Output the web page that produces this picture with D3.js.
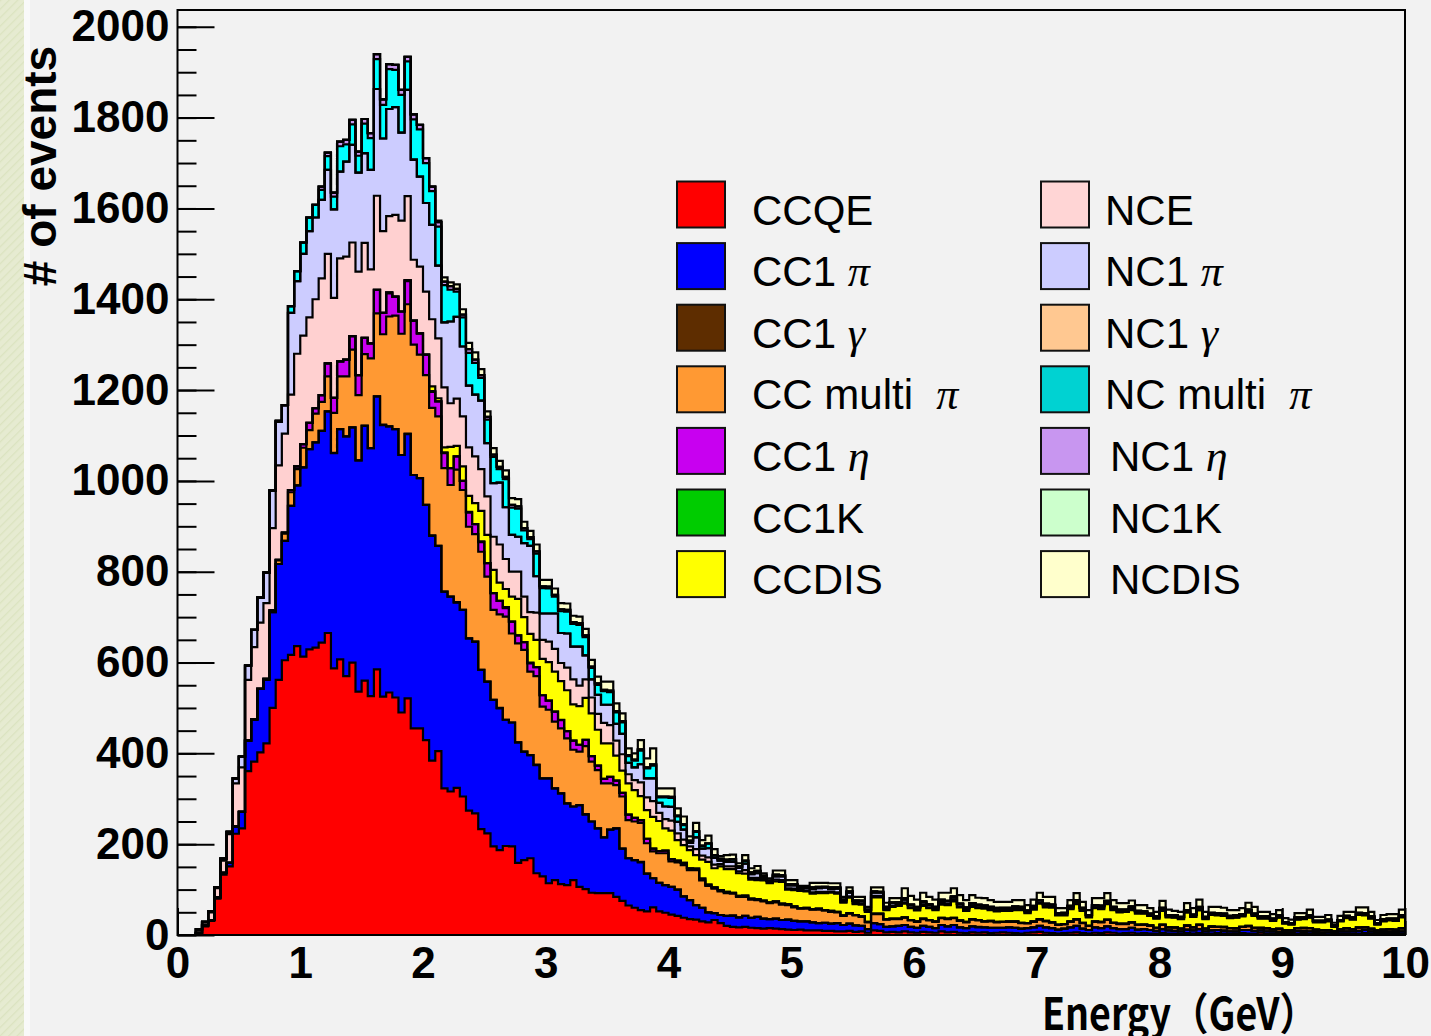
<!DOCTYPE html>
<html>
<head>
<meta charset="utf-8">
<script src="https://cdn.jsdelivr.net/npm/d3@7"></script>
<style>
body{margin:0;background:#f2f2f2;}
svg{display:block;}
</style>
</head>
<body>
<svg id="chart" width="1431" height="1036"></svg>
<script>
// 200 bins of 0.05 GeV, 0 - 10 GeV
var binWidth = 0.05;

var ccqe = [
0,0,0,5,19,31,80,133,151,223, 235,361,382,402,422,500,562,605,617,636,
613,629,633,644,665,587,607,570,600,536, 560,526,585,525,534,523,490,521,455,455,
429,384,405,323,316,324,305,274,268,233, 224,195,187,196,195,159,165,169,136,129,
114,121,112,110,121,106,101,93,92,92, 92,84,75,65,60,55,52,61,52,49,
45,42,38,35,34,30,28,33,26,20, 18,17,18,16,15,14,15,14,13,12,
11,12,10,10,10,9,9,8,8,9, 7,8,5,10,9,6,7,6,8,6,
5,7,6,5,8,6,7,5,4,6, 5,6,4,5,6,5,4,3,5,6,
7,5,4,3,4,5,6,4,3,5, 4,6,5,3,4,5,3,4,3,3,
4,3,3,2,4,3,4,2,3,4, 3,2,3,4,3,3,5,2,3,2,
2,2,3,4,2,3,2,1,2,3, 3,2,3,4,3,2,2,3,2,3];

var cc1pi = [
0,0,0,0,2,2,3,4,8,16, 36,67,93,140,140,211,255,263,328,354,
417,441,452,466,488,474,507,528,518,509, 561,546,601,598,586,591,567,582,558,551,
518,495,452,433,429,408,411,379,378,351, 334,323,312,278,273,265,239,227,238,216,
231,202,200,180,162,180,164,157,143,123, 140,151,115,104,105,105,83,64,63,61,
61,58,47,42,32,30,22,15,18,22, 24,22,24,22,25,22,20,22,20,22,
20,18,20,18,16,18,16,18,14,16, 14,12,8,16,15,12,12,14,14,12,
11,13,12,10,14,13,15,12,11,13, 12,11,12,11,10,12,12,11,10,11,
13,12,11,9,10,12,14,10,8,12, 11,13,10,10,9,11,9,9,8,6,
9,7,6,6,8,7,9,6,7,7, 6,6,5,7,8,6,5,6,5,5,
4,4,6,5,6,4,4,5,3,5, 5,6,6,7,5,4,5,4,5,5];

var cc1gamma = [
0,0,0,0,0,0,0,0,0,0, 0,0,0,0,0,0,0,0,0,0,
0,0,0,0,0,1,0,0,0,0, 1,0,0,1,0,0,0,1,0,0,
0,1,0,0,0,1,0,0,0,0, 0,0,1,0,0,0,0,0,1,0,
0,0,0,0,0,0,1,0,0,0, 0,0,0,0,0,1,0,0,0,0,
0,0,0,0,0,0,0,0,0,0, 1,0,0,0,0,0,0,0,0,0,
0,0,0,0,0,0,0,0,0,0, 0,0,0,0,0,0,0,0,0,0,
0,0,0,0,0,0,0,0,0,0, 1,0,0,0,0,0,0,0,0,0,
0,0,0,0,0,0,0,0,0,0, 0,0,0,0,0,0,0,0,0,0,
0,0,0,0,0,0,0,0,0,0, 1,0,0,0,0,0,0,0,0,0,
0,0,0,0,0,0,0,0,0,0, 0,0,0,0,0,0,0,0,0,0];

var ccmultipi = [
0,0,0,0,0,0,0,0,0,0, 0,0,0,0,2,4,8,16,30,36,
43,42,63,64,77,88,116,132,171,144, 157,198,183,199,242,250,267,285,287,272,
286,281,285,272,246,292,264,246,237,260, 231,198,206,227,196,218,224,184,195,158,
151,147,143,143,125,118,150,132,128,119, 102,95,115,84,85,86,67,59,65,70,
56,60,69,66,77,60,58,54,52,50, 48,45,42,40,37,38,35,36,34,32,
30,28,28,28,30,27,26,24,20,22, 22,20,15,20,22,16,16,15,16,14,
13,15,14,14,15,16,15,14,13,15, 14,13,14,12,13,12,13,12,11,12,
14,13,13,10,10,12,14,12,9,12, 13,14,12,11,11,12,10,10,9,7,
9,7,7,6,8,7,9,6,8,7, 7,7,6,7,8,7,6,6,5,6,
4,4,6,6,7,5,5,4,3,5, 6,5,7,6,5,4,5,5,5,6];

var cc1eta = [
0,0,0,0,0,0,0,0,0,0, 0,0,0,0,0,0,1,2,5,6,
8,16,12,15,29,33,33,37,30,44, 36,33,52,47,51,42,49,51,53,47,
45,35,33,33,37,29,20,31,22,21, 30,37,30,19,26,18,17,18,20,25,
20,22,18,16,20,15,14,12,10,10, 14,10,8,12,8,6,10,6,5,6,
5,4,5,4,3,4,3,3,3,3, 2,2,3,2,2,2,2,2,2,2,
2,1,2,1,2,1,2,1,1,1, 1,1,1,1,1,1,1,1,1,1,
1,1,1,1,1,1,1,1,1,1, 1,0,1,1,0,1,1,1,0,1,
1,1,0,1,0,1,1,1,0,1, 1,1,0,1,1,0,1,0,1,0,
1,0,1,0,1,0,1,0,1,0, 1,0,1,0,1,0,0,1,0,1,
0,0,0,1,0,0,0,1,0,0, 1,0,1,0,1,0,0,1,0,1];

var cc1k = [
0,0,0,0,0,0,0,0,0,0, 0,0,0,0,0,0,0,0,0,0,
0,0,0,0,0,0,0,0,0,0, 0,0,0,0,2,0,0,2,0,0,
0,2,0,2,0,0,0,2,0,2, 0,0,0,2,0,0,0,2,0,0,
0,0,1,0,0,0,0,0,0,0, 0,0,0,0,0,0,0,0,0,0,
0,0,0,0,0,0,0,0,0,0, 0,0,0,0,0,0,0,0,0,0,
0,0,0,0,0,0,0,0,0,0, 0,0,0,0,0,0,0,0,0,0,
0,0,0,0,0,0,0,0,0,0, 0,0,0,0,0,0,0,0,0,0,
0,0,0,0,0,0,0,0,0,0, 0,0,0,0,0,0,0,0,0,0,
0,0,0,0,0,0,0,0,0,0, 0,0,0,0,0,0,0,0,0,0,
0,0,0,0,0,0,0,0,0,0, 0,0,0,0,0,0,0,0,0,0];

var ccdis = [
0,0,0,0,0,0,0,0,0,0, 0,0,0,0,0,0,0,0,0,0,
0,0,0,0,0,0,0,0,0,0, 0,0,0,0,0,0,0,0,0,0,
0,10,7,11,47,23,32,35,46,67, 62,51,40,40,55,80,55,63,60,80,
85,88,85,90,80,85,92,94,79,78, 74,55,49,69,61,53,63,70,66,49,
63,45,39,40,30,42,50,42,52,50, 52,50,48,42,42,44,42,44,48,32,
36,38,36,34,34,37,40,40,28,34, 24,26,22,36,36,20,26,28,30,26,
24,28,26,25,29,30,36,29,24,27, 26,28,24,23,24,23,25,28,22,26,
34,30,32,20,19,27,33,26,19,29, 28,34,28,25,26,27,24,24,21,20,
30,22,21,21,28,23,31,21,25,25, 24,22,23,23,29,26,20,21,18,24,
15,13,19,19,23,16,17,19,10,17, 22,21,27,26,22,13,18,19,19,24];

var nce = [
0,0,0,6,6,17,20,27,63,95, 98,134,159,146,167,181,208,218,210,248,
239,232,240,257,241,220,227,227,206,228, 209,163,207,180,168,180,200,185,134,147,
139,148,132,132,96,104,110,107,103,92, 85,73,84,66,55,60,45,48,60,42,
45,50,40,50,55,45,41,35,35,45, 40,33,36,20,22,30,28,35,18,20,
22,15,12,8,13,9,10,8,5,6, 6,4,8,4,5,3,2,4,4,3,
3,2,2,3,3,3,2,3,2,3, 2,2,1,3,3,2,2,2,3,2,
2,3,2,2,3,2,3,2,2,2, 2,2,2,2,2,2,2,2,2,2,
2,2,2,1,2,2,2,2,1,2, 2,2,2,2,1,2,2,1,1,1,
2,1,1,1,2,1,2,1,1,1, 1,1,1,1,2,1,1,1,1,1,
1,1,1,1,1,1,1,1,1,1, 1,1,1,1,1,1,1,1,1,1];

var nc1pi = [
0,0,0,2,2,2,2,4,5,11, 24,31,38,55,67,83,96,63,180,160,
180,190,180,173,185,195,191,209,215,218, 197,219,235,204,236,237,194,234,220,198,
195,208,160,143,180,180,154,136,136,151, 117,118,136,114,81,77,118,146,80,58,
62,78,66,75,72,86,53,40,42,40, 45,37,45,25,28,40,42,50,22,28,
30,25,22,8,26,15,20,15,8,10, 10,8,14,8,10,5,3,7,8,6,
7,4,5,7,8,9,6,8,4,8, 5,5,3,7,7,4,6,5,6,5,
4,5,5,4,5,6,5,5,4,5, 4,4,4,4,4,4,4,4,3,4,
5,4,4,3,3,4,5,4,3,4, 4,4,4,3,3,4,3,3,3,3,
4,3,3,3,3,3,4,3,3,3, 3,3,3,3,4,3,3,3,3,3,
2,2,3,2,3,2,2,2,2,2, 3,3,3,3,3,2,3,2,3,3];

var nc1gamma = [
0,0,0,0,0,0,0,0,0,0, 0,0,0,0,0,0,0,0,0,0,
0,0,0,0,0,0,0,0,0,0, 1,0,0,0,0,0,0,0,1,0,
0,0,0,0,0,0,0,0,0,0, 0,0,0,0,0,0,0,0,0,0,
0,0,0,0,0,0,0,0,0,0, 0,0,0,0,0,0,0,0,0,0,
0,0,0,0,0,0,0,0,0,0, 0,0,0,0,0,0,0,0,0,0,
0,0,0,0,0,0,0,0,0,0, 0,0,0,0,0,0,0,0,0,0,
0,0,0,0,0,0,0,0,0,0, 0,0,0,0,0,0,0,0,0,0,
0,0,0,0,0,0,0,0,0,0, 0,0,0,0,0,0,0,0,0,0,
0,0,0,0,0,0,0,0,0,0, 0,0,0,0,0,0,0,0,0,0,
0,0,0,0,0,0,0,0,0,0, 0,0,0,0,0,0,0,0,0,0];

var ncmultipi = [
0,0,0,0,0,0,0,0,0,0, 0,0,0,0,0,0,2,0,15,22,
25,30,28,22,30,28,56,38,45,37, 65,70,66,74,88,82,83,63,88,104,
88,74,86,82,70,56,64,72,70,50, 52,58,30,62,60,62,28,15,50,56,
55,37,48,48,50,48,40,25,22,30, 28,25,25,15,15,30,22,28,12,20,
20,12,10,4,12,6,10,5,3,4, 5,2,6,3,4,2,1,3,2,2,
2,1,1,3,2,2,3,2,1,2, 1,1,1,2,2,1,1,1,2,1,
1,2,1,1,2,1,2,1,1,1, 1,1,1,1,1,1,1,1,1,1,
1,1,1,1,1,1,1,1,1,1, 1,1,1,1,1,1,1,1,1,1,
1,1,1,1,1,1,1,1,1,1, 1,1,1,1,1,1,1,1,1,1,
0,0,1,1,1,0,0,1,0,0, 1,1,1,1,1,0,1,1,1,1];

var nc1eta = [
0,0,0,0,0,0,0,0,0,0, 0,0,0,0,0,0,0,0,0,0,
0,0,0,7,8,9,10,10,10,9, 10,11,11,12,11,11,11,10,11,10,
11,10,10,8,8,6,6,8,7,6, 6,5,5,5,6,5,5,4,5,4,
4,4,4,4,4,4,4,3,3,3, 3,3,3,2,2,3,2,3,2,2,
2,2,2,1,2,1,1,1,1,1, 1,1,1,1,1,1,0,1,1,1,
1,0,0,1,1,0,1,1,0,1, 0,1,0,1,0,0,1,0,1,0,
1,0,1,0,1,0,1,0,1,0, 1,0,0,1,0,0,1,0,0,1,
0,1,0,0,0,0,1,0,0,0, 1,0,0,0,0,1,0,0,0,0,
0,0,0,0,0,0,1,0,0,0, 0,0,0,0,0,0,0,0,0,0,
0,0,0,0,0,0,0,0,0,0, 0,0,0,0,0,0,0,0,0,0];

var nc1k = [
0,0,0,0,0,0,0,0,0,0, 0,0,0,0,0,0,0,0,0,0,
0,0,0,0,0,0,0,0,0,0, 0,0,0,0,0,0,0,0,0,0,
0,0,0,0,0,0,0,0,0,0, 0,0,0,0,0,0,0,0,0,0,
0,0,0,0,0,0,0,0,0,0, 0,0,0,0,0,0,0,0,0,0,
0,0,0,0,0,0,0,0,0,0, 0,0,0,0,0,0,0,0,0,0,
0,0,0,0,0,0,0,0,0,0, 0,0,0,0,0,0,0,0,0,0,
0,0,0,0,0,0,0,0,0,0, 0,0,0,0,0,0,0,0,0,0,
0,0,0,0,0,0,0,0,0,0, 0,0,0,0,0,0,0,0,0,0,
0,0,0,0,0,0,0,0,0,0, 0,0,0,0,0,0,0,0,0,0,
0,0,0,0,0,0,0,0,0,0, 0,0,0,0,0,0,0,0,0,0];

var ncdis = [
0,0,0,0,0,0,0,0,0,0, 0,0,0,0,0,0,0,0,0,0,
0,0,0,0,0,0,0,0,0,0, 0,0,0,0,0,0,0,0,0,0,
0,0,3,9,8,10,12,14,16,13, 12,14,13,14,15,16,14,14,15,14,
15,14,14,14,14,14,14,15,15,18, 20,17,17,15,14,20,20,35,18,18,
19,16,17,9,18,12,17,13,6,10, 10,7,12,9,11,5,5,9,10,9,
9,4,4,10,9,9,9,9,6,9, 8,8,6,9,10,9,9,9,22,19,
16,19,16,16,15,18,18,19,16,18, 15,16,15,13,13,13,14,15,12,14,
16,15,17,11,10,13,15,13,11,15, 16,17,15,14,14,13,13,14,12,10,
15,12,10,11,15,14,16,11,13,14, 13,13,12,13,15,15,10,10,10,12,
9,8,9,9,13,9,9,10,6,9, 9,12,12,13,10,7,9,10,10,12];

var keys = ["CCQE","CC1pi","CC1gamma","CCmultipi","CC1eta","CC1K","CCDIS",
            "NCE","NC1pi","NC1gamma","NCmultipi","NC1eta","NC1K","NCDIS"];
var seriesData = [ccqe,cc1pi,cc1gamma,ccmultipi,cc1eta,cc1k,ccdis,
                  nce,nc1pi,nc1gamma,ncmultipi,nc1eta,nc1k,ncdis];
var fillColors = ["#ff0000","#0000ff","#5e2d00","#ff9933","#c800f0","#00cc00","#ffff00",
                  "#ffd0d0","#ccccff","#ffc891","#00ffff","#c896f0","#ccffcc","#ffffcc"];
var legendColors = ["#ff0000","#0000ff","#5e2d00","#ff9933","#c800f0","#00cc00","#ffff00",
                    "#ffd5d5","#ccccff","#ffc891","#00d2d2","#c896f0","#ccffcc","#ffffcc"];

// legend text: [plain, greek]
var legendLeft = [["CCQE",""],["CC1 ","π"],["CC1 ","γ"],["CC multi  ","π"],["CC1 ","η"],["CC1K",""],["CCDIS",""]];
var legendRight = [["NCE",""],["NC1 ","π"],["NC1 ","γ"],["NC multi  ","π"],["NC1 ","η"],["NC1K",""],["NCDIS",""]];

var xTicks = [0,1,2,3,4,5,6,7,8,9,10];
var yTicks = [0,200,400,600,800,1000,1200,1400,1600,1800,2000];

var svg = d3.select("#chart");

// page background and the green strip on the left
var defs = svg.append("defs");
var pat = defs.append("pattern").attr("id","hatch").attr("patternUnits","userSpaceOnUse")
    .attr("width",6).attr("height",6).attr("patternTransform","rotate(45)");
pat.append("rect").attr("width",6).attr("height",6).attr("fill","#e6ebd1");
pat.append("line").attr("x1",0).attr("y1",0).attr("x2",0).attr("y2",6)
    .attr("stroke","#dbe3c0").attr("stroke-width",2.5);

svg.append("rect").attr("width",1431).attr("height",1036).attr("fill","#f2f2f2");
svg.append("rect").attr("x",0).attr("y",0).attr("width",24).attr("height",1036).attr("fill","url(#hatch)");
svg.append("rect").attr("x",24).attr("y",0).attr("width",6).attr("height",1036).attr("fill","#f9f9f9");

var x = d3.scaleLinear().domain([0,10]).range([177.5,1405]);
var y = d3.scaleLinear().domain([0,2037]).range([935,10]);

// y axis (ticks pointing into the frame)
var yAxisMinor = d3.axisLeft(y).tickValues(d3.range(0,2001,50)).tickSize(-19).tickFormat("");
svg.append("g").attr("transform","translate(177.5,0)").call(yAxisMinor)
   .call(function(g){ g.select(".domain").remove(); g.selectAll("line").attr("stroke","#000").attr("stroke-width",2); });

var yAxis = d3.axisLeft(y).tickValues(yTicks).tickSize(-37).tickPadding(8).tickFormat(d3.format("d"));
svg.append("g").attr("class","axis").attr("transform","translate(177.5,0)").call(yAxis)
   .call(function(g){
      g.select(".domain").remove();
      g.selectAll("line").attr("stroke","#000").attr("stroke-width",2);
      g.selectAll("text").style("font-family","'Liberation Sans',Arial,sans-serif")
       .style("font-weight","bold").style("font-size","44px").attr("fill","#000");
   });

// x axis (ticks pointing up, under the histogram)
var xAxisMinor = d3.axisBottom(x).tickValues(d3.range(0,10.001,0.2)).tickSize(-14).tickFormat("");
svg.append("g").attr("transform","translate(0,935)").call(xAxisMinor)
   .call(function(g){ g.select(".domain").remove(); g.selectAll("line").attr("stroke","#000").attr("stroke-width",2); });

var xAxis = d3.axisBottom(x).tickValues(xTicks).tickSize(-27).tickPadding(12).tickFormat(d3.format("d"));
svg.append("g").attr("class","axis").attr("transform","translate(0,935)").call(xAxis)
   .call(function(g){
      g.select(".domain").remove();
      g.selectAll("line").attr("stroke","#000").attr("stroke-width",2);
      g.selectAll("text").style("font-family","'Liberation Sans',Arial,sans-serif")
       .style("font-weight","bold").style("font-size","44px").attr("fill","#000");
   });

// stacked histogram
var rows = ccqe.map(function(v,i){
    var r = {bin:i};
    keys.forEach(function(k,j){ r[k] = seriesData[j][i]; });
    return r;
});
var stacked = d3.stack().keys(keys)(rows);

function layerPoints(layer){
    var pts = layer.map(function(d,i){ return {e:i*binWidth, y0:d[0], y1:d[1]}; });
    var last = pts[pts.length-1];
    pts.push({e:10, y0:last.y0, y1:last.y1});
    return pts;
}

var area = d3.area()
    .x(function(d){ return x(d.e); })
    .y0(function(d){ return y(d.y0); })
    .y1(function(d){ return y(d.y1); })
    .curve(d3.curveStepAfter);

var topLine = d3.line()
    .x(function(d){ return x(d.e); })
    .y(function(d){ return y(d.y1); })
    .curve(d3.curveStepAfter);

var hist = svg.append("g");
stacked.forEach(function(layer,j){
    hist.append("path")
        .attr("d", area(layerPoints(layer)))
        .attr("fill", fillColors[j])
        .attr("stroke", fillColors[j])
        .attr("stroke-width", 0.5);
});
stacked.forEach(function(layer,j){
    hist.append("path")
        .attr("d", topLine(layerPoints(layer)))
        .attr("fill","none")
        .attr("stroke","#000")
        .attr("stroke-width",2.2);
});

// frame
svg.append("rect").attr("x",177.5).attr("y",10).attr("width",1405-177.5).attr("height",925)
   .attr("fill","none").attr("stroke","#000").attr("stroke-width",2);

// legend
function drawLegend(entries, colorOffset, boxX, textX){
    entries.forEach(function(e,k){
        var cy = 204.5 + 61.6*k;
        svg.append("rect").attr("x",boxX).attr("y",cy-23).attr("width",48).attr("height",46)
           .attr("fill",legendColors[colorOffset+k]).attr("stroke","#111").attr("stroke-width",2);
        var t = svg.append("text").attr("x",textX[k]).attr("y",cy+20)
           .style("font-family","'Liberation Sans',Arial,sans-serif").style("font-size","42px")
           .attr("fill","#000").attr("xml:space","preserve");
        t.append("tspan").text(e[0]);
        if(e[1]){
            t.append("tspan").text(e[1]).style("font-family","'Liberation Serif','Times New Roman',serif")
             .style("font-style","italic").style("font-size","44px");
        }
    });
}
drawLegend(legendLeft, 0, 677, [752,752,752,752,752,752,752]);
drawLegend(legendRight, 7, 1041, [1105,1105,1105,1105,1110,1110,1110]);

// axis titles
svg.append("text").attr("transform","translate(56,166) rotate(-90)")
   .attr("text-anchor","middle")
   .style("font-family","'Liberation Sans',Arial,sans-serif").style("font-weight","bold").style("font-size","46px")
   .text("# of events");

svg.append("text").attr("x",1042).attr("y",1030)
   .attr("textLength",275).attr("lengthAdjust","spacingAndGlyphs")
   .style("font-family","'Noto Sans CJK JP',sans-serif").style("font-weight","bold").style("font-size","44px")
   .text("Energy（GeV）");
</script>
